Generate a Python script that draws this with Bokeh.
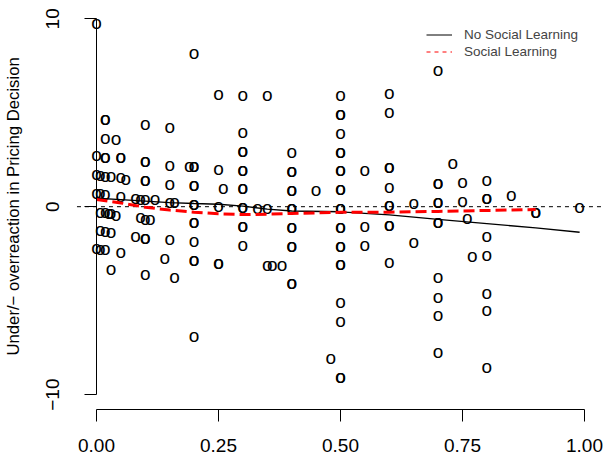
from bokeh.plotting import figure
from bokeh.models import (Range1d, LinearAxis, FixedTicker, Legend, LegendItem,
                          Title, ColumnDataSource, CustomJSTickFormatter)
from bokeh.core.properties import value
from bokeh.embed import file_html
from bokeh.resources import INLINE

# ---------------- data ----------------
pt_x = [0, 0, 0, 0, 0,
        0.008, 0.008, 0.008, 0.008, 0.008,
        0.018, 0.018, 0.018, 0.018, 0.018, 0.018, 0.018, 0.018, 0.018, 0.018,
        0.025,
        0.03, 0.03, 0.03, 0.03,
        0.04, 0.04,
        0.05, 0.05, 0.05, 0.05, 0.05,
        0.06,
        0.08, 0.08,
        0.09, 0.09,
        0.1, 0.1, 0.1, 0.1, 0.1, 0.1, 0.1, 0.1, 0.1, 0.1,
        0.11, 0.12, 0.14,
        0.15, 0.15, 0.15, 0.15, 0.15,
        0.16, 0.16, 0.19,
        0.2, 0.2, 0.2, 0.2, 0.2, 0.2, 0.2, 0.2, 0.2, 0.2, 0.2, 0.2, 0.2,
        0.25, 0.25, 0.25, 0.25, 0.25, 0.26,
        0.3, 0.3, 0.3, 0.3, 0.3, 0.3, 0.3, 0.3, 0.3, 0.3, 0.3, 0.3, 0.3,
        0.33, 0.35, 0.35, 0.35, 0.36, 0.38,
        0.4, 0.4, 0.4, 0.4, 0.4, 0.4, 0.4, 0.4, 0.4, 0.4, 0.4, 0.4, 0.4,
        0.45, 0.48,
        0.5, 0.5, 0.5, 0.5, 0.5, 0.5, 0.5, 0.5, 0.5, 0.5, 0.5, 0.5, 0.5, 0.5,
        0.5, 0.5, 0.5, 0.5, 0.5, 0.5, 0.5, 0.5,
        0.55, 0.55, 0.55,
        0.6, 0.6, 0.6, 0.6, 0.6, 0.6, 0.6, 0.6, 0.6, 0.6,
        0.65, 0.65,
        0.7, 0.7, 0.7, 0.7, 0.7, 0.7, 0.7, 0.7, 0.7, 0.7, 0.7,
        0.73, 0.75, 0.75, 0.76, 0.77,
        0.8, 0.8, 0.8, 0.8, 0.8, 0.8, 0.8, 0.8,
        0.85, 0.9, 0.9, 0.99]
pt_y = [9.73, 2.7, 1.7, 0.72, -2.2,
        1.65, 0.69, -0.32, -1.27, -2.27,
        4.64, 4.64, 3.64, 2.6, 2.6, 1.63, 0.65, -0.32, -1.3, -2.3,
        -0.35,
        1.6, -0.38, -1.37, -3.34,
        3.56, -0.45,
        2.6, 2.6, 1.53, 0.56, -2.45,
        1.47,
        0.44, -1.56,
        0.38, -0.6,
        4.36, 2.4, 2.4, 1.38, 1.38, 0.38, -0.68, -1.67, -1.67, -3.62,
        -0.68, 0.38, -2.77,
        4.21, 2.2, 1.2, 0.22, -1.76,
        0.22, -3.75, 2.14,
        8.13, 2.14, 2.14, 1.13, 1.13, 0.12, 0.12, -0.82, -0.82, -1.83, -2.86, -2.86, -6.9,
        5.97, 1.97, 0.03, -3.0, -3.0, 0.98,
        5.9, 3.96, 2.95, 2.95, 1.93, 1.93, 0.95, 0.95, -0.05, -0.05, -1.05, -1.05, -2.06,
        -0.08, 5.9, -0.08, -3.13, -3.13, -3.13,
        2.87, 1.87, 1.87, 0.86, 0.86, -0.11, -0.11, -1.09, -1.09, -2.12, -2.12, -4.1, -4.1,
        0.88, -8.09,
        5.9, 4.9, 4.9, 3.9, 2.9, 2.9, 1.9, 1.9, 0.9, 0.9, -0.1, -0.1, -1.1, -1.1,
        -2.1, -2.1, -3.1, -3.1, -5.1, -6.1, -9.07, -9.07,
        1.93, -1.05, -2.06,
        6.04, 5.03, 2.07, 2.07, 1.04, 0.06, 0.06, -1.0, -1.0, -2.95,
        0.15, -1.89,
        7.24, 1.22, 1.22, 0.21, 0.21, -0.82, -0.82, -3.78, -4.81, -5.79, -7.74,
        2.28, 1.3, 0.29, -0.64, -2.65,
        1.39, 0.42, 0.42, -1.59, -2.6, -4.6, -5.52, -8.54,
        0.6, -0.29, -0.29, -0.02]

nosl_x = [0, 0.05, 0.1, 0.15, 0.2, 0.25, 0.3, 0.35, 0.4, 0.5, 0.6, 0.7, 0.8, 0.9, 0.99]
nosl_y = [0.45, 0.38, 0.3, 0.22, 0.17, 0.13, 0.03, -0.13, -0.23, -0.27, -0.44, -0.67, -0.9, -1.13, -1.36]

sl_x = [0, 0.05, 0.1, 0.15, 0.2, 0.25, 0.3, 0.35, 0.4, 0.5, 0.6, 0.7, 0.8, 0.9]
sl_y = [0.38, 0.2, -0.03, -0.18, -0.29, -0.38, -0.42, -0.4, -0.36, -0.3, -0.29, -0.25, -0.2, -0.15]

x_ticks = [0, 0.25, 0.5, 0.75, 1.0]
x_tick_labels = ["0.00", "0.25", "0.50", "0.75", "1.00"]
y_ticks = [-10, 0, 10]
y_tick_labels = ["\u221210", "0", "10"]
y_title = "Under/\u2212 overreaction in Pricing Decision"
legend_labels = ["No Social Learning", "Social Learning"]

FONT = "Liberation Sans"

# plot region padding as in R (4% of the axis span)
x_pad = 0.04 * (x_ticks[-1] - x_ticks[0])
y_pad = 0.04 * (y_ticks[-1] - y_ticks[0])

# ---------------- figure ----------------
p = figure(width=605, height=459, output_backend="svg", toolbar_location=None,
           x_range=Range1d(-0.15164, 1.04303), y_range=Range1d(-13.454, 10.974),
           x_axis_location=None, y_axis_location=None,
           min_border_left=22, min_border_right=0, min_border_top=0, min_border_bottom=0)
p.grid.visible = False
p.outline_line_color = None
p.background_fill_color = "white"
p.border_fill_color = "white"

fmt_code = "const i = tv.indexOf(tick); return i >= 0 ? tl[i] : '';"

xaxis = LinearAxis(ticker=FixedTicker(ticks=x_ticks),
                   formatter=CustomJSTickFormatter(args=dict(tv=x_ticks, tl=x_tick_labels), code=fmt_code),
                   bounds=(x_ticks[0], x_ticks[-1]), fixed_location=y_ticks[0] - y_pad)
yaxis = LinearAxis(ticker=FixedTicker(ticks=y_ticks),
                   formatter=CustomJSTickFormatter(args=dict(tv=y_ticks, tl=y_tick_labels), code=fmt_code),
                   bounds=(y_ticks[0], y_ticks[-1]), fixed_location=0,
                   major_label_orientation="parallel")
for ax in (xaxis, yaxis):
    ax.axis_line_color = "black"
    ax.axis_line_width = 1
    ax.major_tick_line_color = "black"
    ax.major_tick_out = 12
    ax.major_tick_in = 0
    ax.minor_tick_line_color = None
    ax.major_label_text_font = FONT
    ax.major_label_text_font_size = "19px"
    ax.major_label_text_color = "black"
xaxis.major_label_standoff = 17
yaxis.major_label_standoff = 25

p.add_layout(xaxis, "below")
p.add_layout(yaxis, "left")
p.add_layout(Title(text=y_title, align="left", offset=104, text_font=FONT, text_font_size="16.7px",
                   text_font_style="normal", text_color="black", standoff=0), "left")

# horizontal dashed reference line at 0 across the plot region
p.line([x_ticks[0] - x_pad, x_ticks[-1] + x_pad], [0, 0], line_color="black",
       line_dash="4 4", line_width=1)

src = ColumnDataSource(dict(x=pt_x, y=pt_y))
p.text(x="x", y="y", source=src, text=value("o"), text_font=value(FONT), text_font_size="19px",
       text_align="center", text_baseline="alphabetic", y_offset=-1, text_color="black")

p.line(nosl_x, nosl_y, line_color="black", line_width=1.3)
p.line(sl_x, sl_y, line_color="red", line_width=3, line_dash="11 5")

l1 = p.line([float("nan")], [float("nan")], line_color="black", line_width=1)
l2 = p.line([float("nan")], [float("nan")], line_color="red", line_width=1, line_dash="4 4")
legend = Legend(items=[LegendItem(label=legend_labels[0], renderers=[l1]),
                       LegendItem(label=legend_labels[1], renderers=[l2])],
                location=(404, 399), border_line_color=None, background_fill_alpha=0,
                padding=0, margin=0, spacing=0, glyph_width=26, glyph_height=17, label_height=17,
                label_standoff=12, label_text_font=FONT, label_text_font_size="13.5px")
p.add_layout(legend)

open("out.html", "w").write(file_html(p, INLINE))
